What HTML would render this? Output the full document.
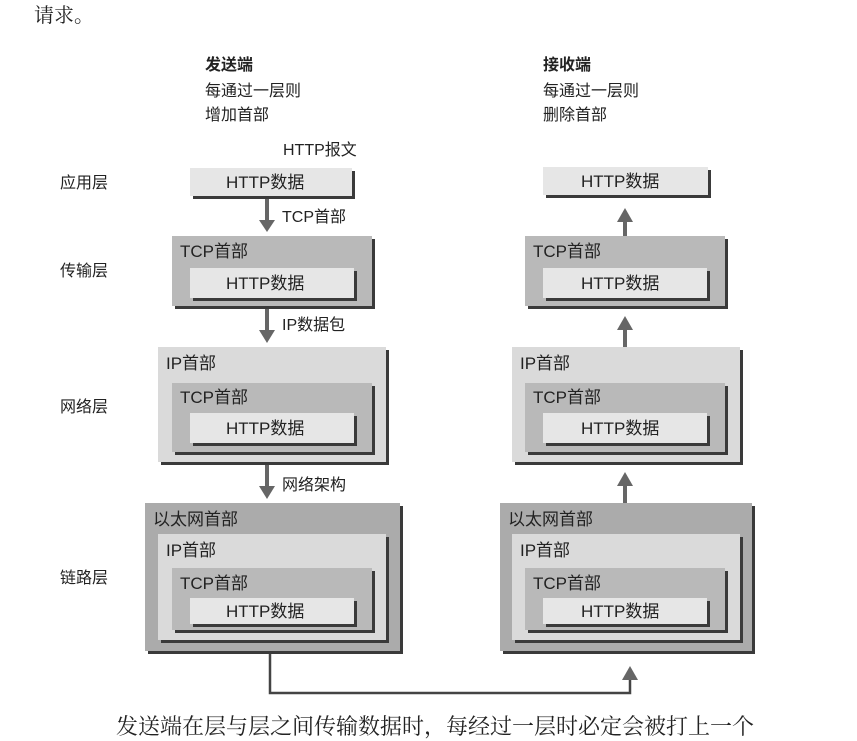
<!DOCTYPE html>
<html><head><meta charset="utf-8"><style>
body{margin:0;width:857px;height:741px;background:#fff;position:relative;overflow:hidden;font-family:"Liberation Sans","Noto Sans CJK SC",sans-serif;color:#222}
.t{position:absolute;font-size:16px;white-space:nowrap;line-height:1}
.b{position:absolute;box-shadow:3px 3px 0 #3a3a3a}
.h{background:#e6e6e6}.tc{background:#b9b9b9}.ip{background:#dadada}.et{background:#ababab}
.bt{position:absolute;font-size:17px;line-height:1;white-space:nowrap}
</style></head><body>
<div class="t" style="left:34px;top:6px;font-size:20px;font-family:'Liberation Serif','Noto Serif CJK SC',serif">请求。</div>
<div class="t" style="left:205px;top:58px;font-weight:bold">发送端</div>
<div class="t" style="left:205px;top:84px">每通过一层则</div>
<div class="t" style="left:205px;top:108px">增加首部</div>
<div class="t" style="left:543px;top:58px;font-weight:bold">接收端</div>
<div class="t" style="left:543px;top:84px">每通过一层则</div>
<div class="t" style="left:543px;top:108px">删除首部</div>
<div class="t" style="left:283px;top:143px">HTTP报文</div>
<div class="t" style="left:60px;top:176px">应用层</div>
<div class="t" style="left:60px;top:264px">传输层</div>
<div class="t" style="left:60px;top:400px">网络层</div>
<div class="t" style="left:60px;top:571px">链路层</div>
<div class="t" style="left:282px;top:210px">TCP首部</div>
<div class="t" style="left:282px;top:318px">IP数据包</div>
<div class="t" style="left:282px;top:478px">网络架构</div>

<!-- left -->
<div class="b h" style="left:190px;top:168px;width:162px;height:28px"><div class="bt" style="left:36px;top:6px">HTTP数据</div></div>

<div class="b tc" style="left:172px;top:236px;width:200px;height:70px"><div class="bt" style="left:8px;top:7px">TCP首部</div></div>
<div class="b h" style="left:190px;top:268px;width:164px;height:30px"><div class="bt" style="left:36px;top:7px">HTTP数据</div></div>

<div class="b ip" style="left:158px;top:347px;width:228px;height:115px"><div class="bt" style="left:8px;top:8px">IP首部</div></div>
<div class="b tc" style="left:172px;top:383px;width:200px;height:69px"><div class="bt" style="left:8px;top:6px">TCP首部</div></div>
<div class="b h" style="left:190px;top:413px;width:164px;height:30px"><div class="bt" style="left:36px;top:7px">HTTP数据</div></div>

<div class="b et" style="left:145px;top:503px;width:255px;height:148px"><div class="bt" style="left:8px;top:8px">以太网首部</div></div>
<div class="b ip" style="left:158px;top:534px;width:228px;height:106px"><div class="bt" style="left:8px;top:8px">IP首部</div></div>
<div class="b tc" style="left:172px;top:568px;width:200px;height:62px"><div class="bt" style="left:8px;top:7px">TCP首部</div></div>
<div class="b h" style="left:190px;top:598px;width:164px;height:26px"><div class="bt" style="left:36px;top:5px">HTTP数据</div></div>

<!-- right -->
<div class="b h" style="left:543px;top:167px;width:165px;height:28px"><div class="bt" style="left:38px;top:6px">HTTP数据</div></div>

<div class="b tc" style="left:525px;top:236px;width:200px;height:70px"><div class="bt" style="left:8px;top:7px">TCP首部</div></div>
<div class="b h" style="left:543px;top:268px;width:164px;height:30px"><div class="bt" style="left:38px;top:7px">HTTP数据</div></div>

<div class="b ip" style="left:512px;top:347px;width:228px;height:115px"><div class="bt" style="left:8px;top:8px">IP首部</div></div>
<div class="b tc" style="left:525px;top:383px;width:200px;height:69px"><div class="bt" style="left:8px;top:6px">TCP首部</div></div>
<div class="b h" style="left:543px;top:413px;width:164px;height:30px"><div class="bt" style="left:38px;top:7px">HTTP数据</div></div>

<div class="b et" style="left:500px;top:503px;width:252px;height:148px"><div class="bt" style="left:8px;top:8px">以太网首部</div></div>
<div class="b ip" style="left:512px;top:534px;width:228px;height:106px"><div class="bt" style="left:8px;top:8px">IP首部</div></div>
<div class="b tc" style="left:525px;top:568px;width:200px;height:62px"><div class="bt" style="left:8px;top:7px">TCP首部</div></div>
<div class="b h" style="left:543px;top:598px;width:164px;height:26px"><div class="bt" style="left:38px;top:5px">HTTP数据</div></div>

<svg style="position:absolute;left:0;top:0" width="857" height="741">
<g fill="#666" stroke="#666">
<line x1="267" y1="199" x2="267" y2="222" stroke-width="4"/><polygon points="259,220 275,220 267,232" stroke="none"/>
<line x1="267" y1="309" x2="267" y2="332" stroke-width="4"/><polygon points="259,330 275,330 267,343" stroke="none"/>
<line x1="267" y1="465" x2="267" y2="488" stroke-width="4"/><polygon points="259,486 275,486 267,499" stroke="none"/>
<line x1="625" y1="222" x2="625" y2="236" stroke-width="4"/><polygon points="617,222 633,222 625,208" stroke="none"/>
<line x1="625" y1="330" x2="625" y2="347" stroke-width="4"/><polygon points="617,330 633,330 625,316" stroke="none"/>
<line x1="625" y1="486" x2="625" y2="503" stroke-width="4"/><polygon points="617,486 633,486 625,472" stroke="none"/>
</g>
<polyline points="270,654 270,693 630,693 630,678" fill="none" stroke="#444" stroke-width="2.5"/>
<polygon points="622,680 638,680 630,666" fill="#666"/>
</svg>
<div class="t" style="left:116px;top:716px;font-size:22px;font-family:'Liberation Serif','Noto Serif CJK SC',serif">发送端在层与层之间传输数据时，每经过一层时必定会被打上一个</div>
</body></html>
